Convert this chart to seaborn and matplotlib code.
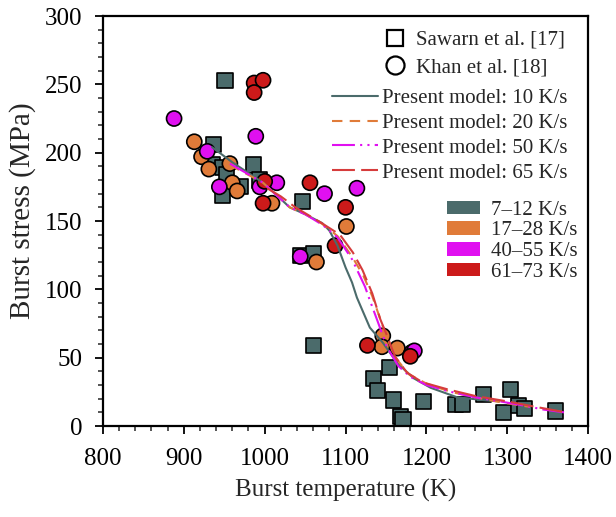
import numpy as np
import pandas as pd
import matplotlib
matplotlib.use("Agg")
import matplotlib.pyplot as plt
import seaborn as sns
from matplotlib.lines import Line2D
from matplotlib.patches import Patch
from matplotlib.ticker import MultipleLocator

# ---------------- data ----------------
# Sawarn et al. [17]  (squares, 7-12 K/s)
saw_T = [951, 937, 936, 948, 953, 970, 948, 986, 994, 1047, 1044, 1060, 1060,
         1154, 1134, 1139, 1159, 1196, 1168, 1171, 1236, 1244, 1270, 1304, 1295,
         1314, 1321, 1359]
saw_S = [253, 206, 191, 189, 184, 175, 169, 191, 180, 164, 125, 126, 59,
         43, 35, 26, 19, 18, 7, 5, 16, 16, 23, 27, 10,
         15, 13, 11]

# Khan et al. [18] (circles)
khan_org_T = [913, 922, 931, 957, 960, 966, 1009, 1064, 1101, 1146, 1145, 1164]
khan_org_S = [208, 197, 188, 192, 178, 172, 163, 120, 146, 66, 58, 57]
khan_mag_T = [888, 929, 944, 989, 994, 1015, 1074, 1044, 1114, 1182, 1185]
khan_mag_S = [225, 201, 175, 212, 175, 178, 170, 124, 174, 54, 55]
khan_red_T = [987, 998, 987, 1000, 998, 1056, 1100, 1087, 1127, 1180]
khan_red_S = [251, 253, 244, 179, 163, 178, 160, 132, 59, 51]

# Present model curves
m10_T = [935, 960, 998, 1031, 1050, 1071, 1080, 1090, 1100, 1108, 1114, 1122,
         1130, 1146, 1164, 1184, 1205, 1238, 1270, 1290]
m10_S = [204, 193, 178, 160, 155, 148.5, 143, 132, 116, 105, 94, 83,
         72, 61, 46, 35, 28, 21, 19, 18]
m20_T = [957, 998, 1031, 1050, 1071, 1090, 1108, 1122, 1133, 1143, 1152, 1163,
         1178, 1200, 1230, 1260, 1295, 1328]
m20_S = [191, 178, 160, 155, 148, 139, 124, 110, 95, 78, 63, 49,
         38, 31, 25, 21, 17, 14]
m50_T = [957, 998, 1031, 1050, 1072, 1090, 1108, 1124, 1130, 1140, 1151, 1165,
         1180, 1200, 1230, 1260, 1291, 1320, 1345, 1370]
m50_S = [192, 178, 160, 155, 147, 138, 122, 102, 92, 76, 58, 44,
         36, 30, 25, 21, 18, 15, 12, 10]
m65_T = [1003, 1020, 1038, 1069, 1093, 1109, 1121, 1133, 1143, 1152, 1161, 1176,
         1195, 1225, 1260, 1300, 1335, 1372]
m65_S = [174, 168, 160, 149, 140, 127, 114, 97, 78, 65, 51, 39,
         32, 27, 22, 18, 14, 10]

rate_labels = ["7\u201312 K/s", "17\u201328 K/s", "40\u201355 K/s", "61\u201373 K/s"]
model_labels = ["Present model: 10 K/s", "Present model: 20 K/s",
                "Present model: 50 K/s", "Present model: 65 K/s"]

# ---------------- build tables ----------------
pts = pd.concat([
    pd.DataFrame({"T": saw_T, "S": saw_S, "rate": rate_labels[0], "src": "Sawarn"}),
    pd.DataFrame({"T": khan_org_T, "S": khan_org_S, "rate": rate_labels[1], "src": "Khan"}),
    pd.DataFrame({"T": khan_mag_T, "S": khan_mag_S, "rate": rate_labels[2], "src": "Khan"}),
    pd.DataFrame({"T": khan_red_T, "S": khan_red_S, "rate": rate_labels[3], "src": "Khan"}),
], ignore_index=True)

curves = pd.concat([
    pd.DataFrame({"T": m10_T, "S": m10_S, "model": model_labels[0]}),
    pd.DataFrame({"T": m20_T, "S": m20_S, "model": model_labels[1]}),
    pd.DataFrame({"T": m50_T, "S": m50_S, "model": model_labels[2]}),
    pd.DataFrame({"T": m65_T, "S": m65_S, "model": model_labels[3]}),
], ignore_index=True)

c_gray = "#4b6b6b"
c_org = "#e07b39"
c_mag = "#e010f0"
c_red = "#cc1a1a"
c_red_line = "#d63c3c"

pt_pal = dict(zip(rate_labels, [c_gray, c_org, c_mag, c_red]))
ln_pal = dict(zip(model_labels, [c_gray, c_org, c_mag, c_red_line]))
ln_dash = dict(zip(model_labels, ["", (5, 3.5), (11, 2.5, 1, 2.5, 1, 2.5), (11, 3)]))

# ---------------- plot ----------------
sns.set_style("ticks")
plt.rcParams['font.family'] = ['Liberation Serif', 'DejaVu Serif']

fig = plt.figure(figsize=(6.16, 5.17), dpi=100)
ax = fig.add_axes([0.167, 0.176, 0.788, 0.793])

sns.scatterplot(data=pts, x="T", y="S", hue="rate", style="src",
                palette=pt_pal, markers={"Sawarn": "s", "Khan": "o"},
                s=118, edgecolor="black", linewidth=1.2, legend=False,
                ax=ax, zorder=2)

sns.lineplot(data=curves, x="T", y="S", hue="model", style="model",
             palette=ln_pal, dashes=ln_dash, sort=False, estimator=None,
             lw=1.5, legend=False, ax=ax, zorder=3)

ax.set_xlim(800, 1400)
ax.set_ylim(0, 300)
ax.xaxis.set_major_locator(MultipleLocator(100))
ax.xaxis.set_minor_locator(MultipleLocator(20))
ax.yaxis.set_major_locator(MultipleLocator(50))
ax.yaxis.set_minor_locator(MultipleLocator(10))
ax.tick_params(which="major", direction="out", length=6, width=1.3,
               labelsize=18, colors="black")
ax.tick_params(which="minor", direction="out", length=3.5, width=1.1)
ax.tick_params(axis="x", which="major", pad=10)
ax.tick_params(axis="y", which="major", pad=9)
for sp in ax.spines.values():
    sp.set_linewidth(1.6)
    sp.set_color("black")
    sp.set_visible(True)

ax.set_xlabel("Burst temperature (K)", fontsize=18, labelpad=6)
ax.set_ylabel("Burst stress (MPa)", fontsize=21, labelpad=6)
ax.yaxis.label.set_y(0.524)

# legends
mk_handles = [
    Line2D([], [], ls="none", marker="s", ms=12, mfc="white", mec="black", mew=1.6),
    Line2D([], [], ls="none", marker="o", ms=13, mfc="white", mec="black", mew=1.6),
]
leg1 = ax.legend(mk_handles, ["Sawarn et al. [17]", "Khan et al. [18]"],
                 loc="upper left", bbox_to_anchor=(0.581, 0.965), frameon=False,
                 fontsize=15, handletextpad=0.5, labelspacing=0.39,
                 handlelength=1.0, borderpad=0, borderaxespad=0)
ax.add_artist(leg1)

ln_handles = []
for lab in model_labels:
    d = ln_dash[lab]
    if d == "":
        ln_handles.append(Line2D([], [], color=ln_pal[lab], lw=1.5))
    else:
        ln_handles.append(Line2D([], [], color=ln_pal[lab], lw=1.5, dashes=d))
leg2 = ax.legend(ln_handles, model_labels, loc="upper left",
                 bbox_to_anchor=(0.472, 0.823), frameon=False, fontsize=15,
                 handlelength=2.2, handletextpad=0.2, labelspacing=0.25,
                 borderpad=0, borderaxespad=0)
ax.add_artist(leg2)

p_handles = [Patch(facecolor=pt_pal[r], edgecolor="none") for r in rate_labels]
leg3 = ax.legend(p_handles, rate_labels, loc="upper left",
                 bbox_to_anchor=(0.709, 0.55), frameon=False, fontsize=15,
                 handlelength=1.6, handleheight=0.6, handletextpad=0.5,
                 labelspacing=0.09, borderpad=0, borderaxespad=0)

fig.savefig("out.png", dpi=100)
